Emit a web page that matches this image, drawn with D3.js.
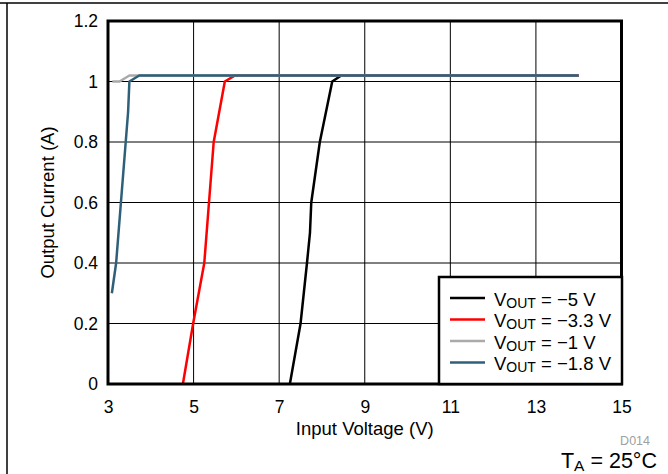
<!DOCTYPE html>
<html><head><meta charset="utf-8">
<script src="https://cdn.jsdelivr.net/npm/d3@7"></script>
<style>body{margin:0;background:#fff}svg{display:block;font-family:"Liberation Sans",Arial,sans-serif}</style>
</head><body><svg id="c" width="668" height="474"></svg>
<script>
const xTicks = [3,5,7,9,11,13,15];
const yTicks = [0,0.2,0.4,0.6,0.8,1,1.2];
const yTickLabels = ["0","0.2","0.4","0.6","0.8","1","1.2"];
const seriesNames = ["\u22125 V","\u22123.3 V","\u22121 V","\u22121.8 V"];
const seriesColors = ["#000000","#ff0000","#aaaaaa","#2e6079"];
const vin5  = [7.25,7.5,7.65,7.72,7.75,7.95,8.24,8.45,14];
const iout5 = [0,0.2,0.4,0.5,0.6,0.8,1.0,1.02,1.02];
const vin33  = [4.75,4.99,5.25,5.47,5.73,5.97,14];
const iout33 = [0,0.2,0.4,0.8,1.0,1.02,1.02];
const vin1  = [3.1,3.27,3.5,14];
const iout1 = [1.0,1.0,1.02,1.02];
const vin18  = [3.09,3.19,3.47,3.5,3.73,14];
const iout18 = [0.3,0.4,0.9,1.0,1.02,1.02];
const seriesX = [vin5,vin33,vin1,vin18];
const seriesY = [iout5,iout33,iout1,iout18];
const drawOrder = [0,1,2,3];

const svg = d3.select("#c");
const L=108,R=621.5,T=21,B=384;
const x = d3.scaleLinear().domain([3,15]).range([L,R]);
const y = d3.scaleLinear().domain([0,1.2]).range([B,T]);
const FF = "Liberation Sans, Arial, sans-serif";

// page frame
svg.append("line").attr("x1",0).attr("x2",668).attr("y1",3).attr("y2",3).attr("stroke","#000").attr("stroke-width",1.5);
svg.append("line").attr("x1",7).attr("x2",7).attr("y1",3).attr("y2",474).attr("stroke","#000").attr("stroke-width",1.5);

// grid
svg.append("g").selectAll("line").data(xTicks.slice(1,-1)).join("line")
  .attr("x1",d=>x(d)).attr("x2",d=>x(d)).attr("y1",T).attr("y2",B).attr("stroke","#000").attr("stroke-width",1);
svg.append("g").selectAll("line").data(yTicks.slice(1,-1)).join("line")
  .attr("x1",L).attr("x2",R).attr("y1",d=>y(d)).attr("y2",d=>y(d)).attr("stroke","#000").attr("stroke-width",1);

// axes labels via d3 axes
const xAxis = svg.append("g").attr("transform",`translate(0,${B})`)
  .call(d3.axisBottom(x).tickValues(xTicks).tickSize(0).tickPadding(17).tickFormat(d3.format("d")));
xAxis.attr("font-size",17.5).attr("font-family",FF);
xAxis.select(".domain").remove();
xAxis.selectAll("text").attr("fill","#000");
const yAxis = svg.append("g").attr("transform",`translate(${L},0)`)
  .call(d3.axisLeft(y).tickValues(yTicks).tickSize(0).tickPadding(10).tickFormat((d,i)=>yTickLabels[i]));
yAxis.attr("font-size",17.5).attr("font-family",FF);
yAxis.select(".domain").remove();
yAxis.selectAll("text").attr("fill","#000");

// lines
const line = d3.line().x(d=>x(d[0])).y(d=>y(d[1]));
drawOrder.forEach(i=>{
  const pts = seriesX[i].map((v,k)=>[v,seriesY[i][k]]);
  svg.append("path").attr("d",line(pts)).attr("fill","none").attr("stroke",seriesColors[i])
    .attr("stroke-width",2.5).attr("stroke-linejoin","round");
});

// plot border
svg.append("rect").attr("x",L).attr("y",T).attr("width",R-L).attr("height",B-T)
  .attr("fill","none").attr("stroke","#000").attr("stroke-width",3);

// legend
const lg = svg.append("g");
lg.append("rect").attr("x",439).attr("y",277).attr("width",183).attr("height",107)
  .attr("fill","#fff").attr("stroke","#000").attr("stroke-width",2.5);
seriesNames.forEach((n,i)=>{
  const yy = 298 + i*21.5;
  lg.append("line").attr("x1",450).attr("x2",485).attr("y1",yy).attr("y2",yy)
    .attr("stroke",seriesColors[i]).attr("stroke-width",2.5);
  const t = lg.append("text").attr("x",494).attr("y",yy+7.5).attr("font-size",18.5).attr("fill","#000");
  t.append("tspan").text("V");
  t.append("tspan").attr("font-size",14).attr("dy",2).text("OUT");
  t.append("tspan").attr("dy",-2).text(" = " + n);
});

// axis titles
svg.append("text").attr("x",(L+R)/2).attr("y",435).attr("text-anchor","middle").attr("font-size",18.5).text("Input Voltage (V)");
svg.append("text").attr("transform",`translate(54,${(T+B)/2}) rotate(-90)`).attr("text-anchor","middle").attr("font-size",18.5).text("Output Current (A)");

svg.append("text").attr("x",650).attr("y",445).attr("text-anchor","end").attr("font-size",12.5).attr("fill","#a0a0a0").text("D014");
const ta = svg.append("text").attr("x",657).attr("y",468).attr("text-anchor","end").attr("font-size",21.5).attr("fill","#000");
ta.append("tspan").text("T");
ta.append("tspan").attr("font-size",15.5).attr("dy",3).text("A");
ta.append("tspan").attr("dy",-3).text(" = 25\u00B0C");
</script></body></html>
